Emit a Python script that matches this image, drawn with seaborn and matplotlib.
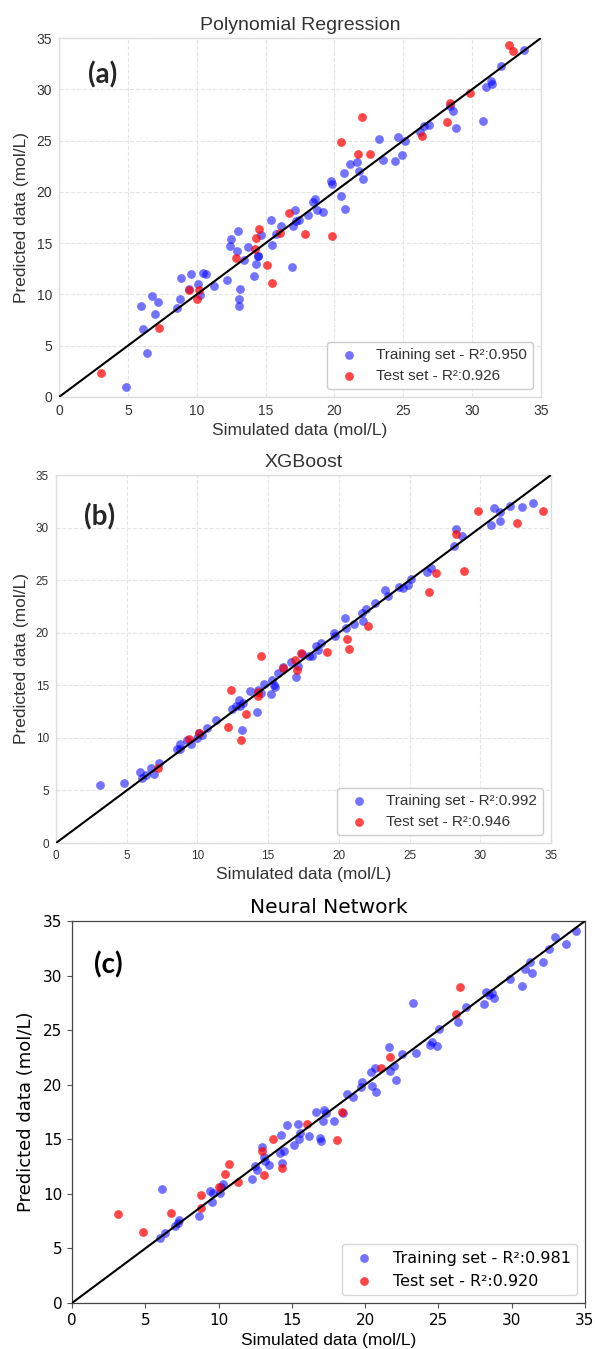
import matplotlib
matplotlib.use("Agg")
import matplotlib.pyplot as plt
import seaborn as sns
import pandas as pd

# ---------------- data ----------------
# (a) Polynomial Regression
poly_train_x = [4.84, 6.36, 6.09, 5.98, 6.72, 7.0, 7.22, 8.6, 8.77, 8.83, 9.57, 9.44, 10.1, 10.27, 10.46,
                10.68, 11.29, 12.2, 12.42, 12.48, 12.98, 12.95, 13.14, 13.09, 13.09, 13.45, 13.75, 14.14,
                14.28, 14.42, 14.47, 14.69, 15.38, 15.5, 15.74, 16.13, 16.94, 16.96, 17.13, 17.24, 17.43,
                18.07, 18.43, 18.62, 18.76, 19.17, 19.73, 19.81, 20.5, 20.67, 20.78, 21.11, 21.67, 21.8,
                22.1, 23.27, 23.52, 24.38, 24.63, 24.93, 25.1, 26.23, 26.5, 26.87, 28.39, 28.64, 28.86,
                30.77, 30.99, 31.4, 31.46, 32.1, 33.8]
poly_train_y = [0.94, 4.26, 6.66, 8.84, 9.88, 8.06, 9.26, 8.68, 9.59, 11.6, 12.0, 10.5, 11.05, 9.98, 12.09,
                12.0, 10.8, 11.4, 14.75, 15.37, 16.2, 14.27, 10.5, 9.59, 8.9, 13.36, 14.6, 11.83,
                13.0, 13.7, 13.78, 15.79, 17.3, 14.8, 15.9, 16.64, 12.64, 16.64, 18.2, 17.13, 17.29,
                17.78, 18.98, 19.3, 18.2, 18.07, 21.09, 20.77, 19.6, 21.87, 18.33, 22.7, 22.9, 22.03,
                21.3, 25.15, 23.07, 23.0, 25.3, 23.6, 24.99, 25.8, 26.45, 26.48, 28.4, 27.85, 26.2,
                26.88, 30.2, 30.8, 30.48, 32.3, 33.8]
poly_test_x = [3.07, 7.28, 9.41, 9.99, 10.15, 12.87, 14.2, 14.28, 14.55, 15.14, 15.47, 16.05, 16.69,
               17.88, 19.84, 20.45, 21.69, 22.0, 22.58, 26.34, 28.17, 28.36, 29.86, 32.65, 33.0]
poly_test_y = [2.34, 6.7, 10.4, 9.59, 10.4, 13.52, 14.43, 15.5, 16.41, 12.84, 11.08, 16.02, 17.94,
               15.92, 15.66, 24.83, 23.72, 27.27, 23.72, 25.41, 26.8, 28.63, 29.67, 34.29, 33.73]

# (b) XGBoost
xgb_train_x = [3.09, 4.84, 5.97, 6.05, 6.38, 6.7, 6.94, 7.29, 8.56, 8.8, 8.77, 9.25, 9.55, 9.98, 10.12,
               10.33, 10.65, 11.3, 12.43, 12.75, 12.91, 13.02, 13.13, 13.24, 13.72, 14.2, 14.31, 14.47,
               14.69, 15.17, 15.28, 15.44, 15.5, 15.71, 16.06, 16.6, 16.95, 17.14, 17.41, 17.86, 18.13,
               18.4, 18.56, 18.75, 19.69, 19.75, 20.45, 20.5, 21.09, 21.63, 21.71, 21.9, 22.54, 23.27,
               23.46, 24.27, 24.54, 24.86, 25.07, 26.2, 26.5, 28.14, 28.3, 28.68, 30.75, 30.99, 31.37,
               31.42, 32.12, 32.96, 33.76]
xgb_train_y = [5.48, 5.7, 6.75, 6.18, 6.49, 7.13, 6.59, 7.6, 8.93, 9.44, 8.96, 9.76, 9.44, 10.0, 10.42,
               10.29, 10.96, 11.66, 12.73, 12.99, 13.62, 12.99, 10.77, 13.3, 14.5, 12.42, 14.57, 14.25,
               15.14, 14.19, 15.52, 15.05, 14.79, 16.15, 16.72, 17.17, 15.77, 16.85, 17.99, 17.8, 17.8,
               18.78, 18.37, 19.0, 20.02, 19.64, 21.38, 20.49, 20.84, 21.92, 21.16, 22.3, 22.84, 24.07,
               23.53, 24.33, 24.3, 24.55, 25.09, 25.82, 26.16, 28.22, 29.84, 29.2, 30.22, 31.83, 30.63,
               31.52, 32.06, 31.96, 32.37]
xgb_test_x = [7.21, 9.39, 10.12, 12.19, 12.35, 13.07, 13.42, 14.26, 14.29, 14.53, 16.06, 16.9, 17.06,
              17.3, 19.16, 20.6, 20.74, 22.09, 26.37, 26.85, 28.3, 28.84, 29.86, 32.61, 34.44]
xgb_test_y = [7.13, 9.88, 10.45, 10.99, 14.51, 9.76, 12.23, 13.94, 14.32, 17.83, 16.6, 17.36, 16.47,
              18.05, 18.18, 19.42, 18.44, 20.62, 23.88, 25.69, 29.4, 25.85, 31.61, 30.41, 31.61]

# (c) Neural Network
nn_train_x = [6.0, 6.36, 6.13, 7.04, 7.24, 7.29, 8.64, 9.39, 9.57, 9.65, 10.09, 10.19, 10.3, 12.26, 12.47,
              12.62, 12.93, 13.09, 13.19, 13.45, 14.17, 14.28, 14.3, 14.49, 14.69, 15.13, 15.39, 15.47,
              15.57, 16.17, 16.66, 16.89, 16.97, 17.12, 17.2, 17.33, 17.85, 18.52, 18.73, 19.14, 19.71,
              19.79, 20.38, 20.49, 20.64, 20.74, 21.6, 21.73, 21.99, 22.09, 22.5, 23.28, 23.49, 24.42,
              24.57, 24.91, 25.04, 26.31, 26.85, 28.09, 28.27, 28.45, 28.66, 28.82, 29.88, 30.73, 30.91,
              31.25, 31.38, 32.13, 32.57, 32.93, 33.7, 34.38]
nn_train_y = [5.95, 6.37, 10.43, 7.01, 7.32, 7.62, 7.93, 10.3, 9.21, 10.06, 10.06, 10.67, 10.91, 11.34, 12.56,
              12.2, 14.27, 13.35, 13.05, 12.62, 13.72, 15.4, 12.87, 13.96, 16.28, 14.45, 16.37, 15.0,
              15.55, 15.3, 17.47, 15.09, 14.88, 16.7, 17.68, 17.38, 16.7, 17.44, 19.12, 18.9, 19.76,
              20.27, 21.13, 19.88, 21.49, 19.33, 23.48, 21.28, 21.71, 20.43, 22.8, 27.5, 22.87, 23.66,
              23.93, 23.54, 25.15, 25.76, 27.13, 27.35, 28.51, 28.2, 28.41, 27.9, 29.7, 29.02, 30.64,
              31.25, 30.27, 31.22, 32.41, 33.54, 32.87, 34.09]
nn_test_x = [3.13, 4.86, 6.73, 8.79, 8.82, 10.04, 10.45, 10.68, 11.3, 12.98, 13.11, 13.71, 14.36, 16.04,
             18.11, 18.42, 21.06, 21.68, 26.18, 26.49]
nn_test_y = [8.17, 6.55, 8.23, 9.91, 8.69, 10.67, 11.8, 12.77, 11.1, 13.96, 11.71, 15.06, 12.38, 16.37,
             14.94, 17.5, 21.55, 22.5, 26.52, 28.96]

titles = ["Polynomial Regression", "XGBoost", "Neural Network"]
panel_tags = ["(a)", "(b)", "(c)"]
train_r2 = ["0.950", "0.992", "0.981"]
test_r2 = ["0.926", "0.946", "0.920"]
ticks = [0, 5, 10, 15, 20, 25, 30, 35]
tick_labels = [str(t) for t in ticks]
axis_range = [0, 35]
xlabel = "Simulated data (mol/L)"
ylabel = "Predicted data (mol/L)"

# ---------------- fonts ----------------
ARIAL = ["Liberation Sans", "DejaVu Sans"]
NARROW = ["Liberation Sans Narrow", "Liberation Sans", "DejaVu Sans"]
DEJAVU = ["DejaVu Sans"]
BOLD = ["Lato", "DejaVu Sans"]

fig = plt.figure(figsize=(5.95, 13.49), dpi=100)

positions = [
    [59 / 595, (1349 - 397) / 1349, 482 / 595, 359 / 1349],
    [56 / 595, (1349 - 843) / 1349, 495 / 595, 368 / 1349],
    [72 / 595, (1349 - 1303) / 1349, 513 / 595, 382 / 1349],
]
tag_pos = [(0.091, 0.897), (0.089, 0.886), (0.070, 0.885)]

datasets = [
    (poly_train_x, poly_train_y, poly_test_x, poly_test_y),
    (xgb_train_x, xgb_train_y, xgb_test_x, xgb_test_y),
    (nn_train_x, nn_train_y, nn_test_x, nn_test_y),
]

for i, (trx, tr_y, tex, te_y) in enumerate(datasets):
    seaborn_look = i < 2
    if seaborn_look:
        ctx = sns.axes_style("whitegrid", {"grid.linestyle": "--"})
    else:
        ctx = plt.rc_context({})
    with ctx:
        ax = fig.add_axes(positions[i])
        df_tr = pd.DataFrame({"x": trx, "y": tr_y})
        df_te = pd.DataFrame({"x": tex, "y": te_y})
        sns.scatterplot(data=df_tr, x="x", y="y", color="blue", alpha=0.55, s=40,
                        linewidth=0, label=f"Training set - R\u00b2:{train_r2[i]}", ax=ax, zorder=3)
        sns.scatterplot(data=df_te, x="x", y="y", color="red", alpha=0.72, s=40,
                        linewidth=0, label=f"Test set - R\u00b2:{test_r2[i]}", ax=ax, zorder=3)
        ax.plot(axis_range, axis_range, color="black", lw=1.5, zorder=4)
        ax.set_xlim(axis_range)
        ax.set_ylim(axis_range)

        if seaborn_look:
            tcol = "#333333"
            tick_font = ARIAL if i == 0 else NARROW
            tick_size = 10 if i == 0 else 8.5
            ax.set_xticks(ticks)
            ax.set_yticks(ticks)
            ax.set_xticklabels(tick_labels, family=tick_font, fontsize=tick_size, color=tcol)
            ax.set_yticklabels(tick_labels, family=tick_font, fontsize=tick_size, color=tcol)
            ax.tick_params(length=0, pad=5)
            ax.grid(True, linestyle="--", color="#e4e4e4", linewidth=0.8)
            ax.set_axisbelow(True)
            for sp in ax.spines.values():
                sp.set_color("#dddddd")
                sp.set_linewidth(1.0)
            ax.set_title(titles[i], family=ARIAL, fontsize=14, color=tcol, pad=6)
            ax.set_xlabel(xlabel, family=ARIAL, fontsize=12.5, color=tcol, labelpad=4)
            ax.set_ylabel(ylabel, family=ARIAL, fontsize=12.5, color=tcol, labelpad=5)
            leg = ax.legend(loc="lower right", prop={"family": ARIAL, "size": 11},
                            frameon=True, fancybox=True, edgecolor="#cccccc", framealpha=1)
            for t in leg.get_texts():
                t.set_color(tcol)
        else:
            ax.grid(False)
            ax.set_xticks(ticks)
            ax.set_yticks(ticks)
            ax.set_xticklabels(tick_labels, family=DEJAVU, fontsize=11)
            ax.set_yticklabels(tick_labels, family=DEJAVU, fontsize=11)
            ax.tick_params(direction="out", length=3.5, width=0.8, color="#555555")
            for sp in ax.spines.values():
                sp.set_color("#444444")
                sp.set_linewidth(0.9)
            ax.set_title(titles[i], family=DEJAVU, fontsize=14.5, pad=6)
            ax.set_xlabel(xlabel, family=ARIAL, fontsize=12.5, labelpad=4)
            ax.set_ylabel(ylabel, family=DEJAVU, fontsize=13, labelpad=6)
            ax.legend(loc="lower right", prop={"family": DEJAVU, "size": 11.5},
                      frameon=True, fancybox=True, edgecolor="#cccccc", framealpha=0.8)

        ax.text(tag_pos[i][0], tag_pos[i][1], panel_tags[i], transform=ax.transAxes,
                family=BOLD, fontweight="bold", fontsize=20, ha="center", va="center", zorder=5)

fig.savefig("out.png", dpi=100)
